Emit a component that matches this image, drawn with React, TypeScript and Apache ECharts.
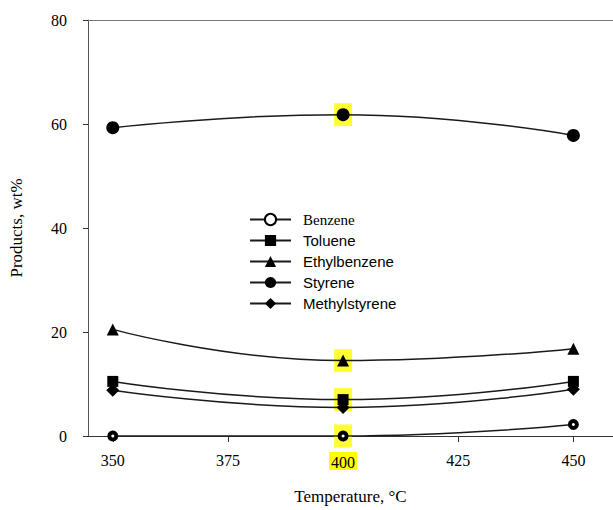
import React, { useEffect, useRef } from "react";
import * as echarts from "echarts";

const temperatures = [350, 400, 450];
const benzene = [0, 0, 2.2];
const toluene = [10.5, 7.0, 10.5];
const ethylbenzene = [20.5, 14.5, 16.8];
const styrene = [59.3, 61.8, 57.8];
const methylstyrene = [8.8, 5.5, 9.0];
const xTicks = [350, 375, 400, 425, 450];
const highlighted = [
  [400, 61.8],
  [400, 14.5],
  [400, 7.0],
  [400, 0],
];

const SERIF = "Liberation Serif";
const SANS = "Liberation Sans";

function pairs(vals: number[]) {
  return temperatures.map((t, i) => [t, vals[i]]);
}

export default function App() {
  const ref = useRef<HTMLDivElement>(null);
  useEffect(() => {
    if (!ref.current) return;
    const chart = echarts.init(ref.current, undefined, { renderer: "svg" });
    const lineStyle = { color: "#1a1a1a", width: 1.5 };
    const mk = (name: string, data: number[], symbol: string, size: number, item: any) => ({
      name,
      type: "line",
      data: pairs(data),
      smooth: true,
      symbol,
      symbolSize: size,
      lineStyle,
      itemStyle: item,
      z: 3,
    });
    chart.setOption({
      animation: false,
      grid: { left: 83, right: 0, top: 20, bottom: 70 },
      legend: {
        orient: "vertical",
        left: 244,
        top: 207,
        itemWidth: 41,
        itemHeight: 14,
        itemGap: 6,
        data: ["Benzene", "Toluene", "Ethylbenzene", "Styrene", "Methylstyrene"],
        formatter: (n: string) => (n === "Benzene" ? `{s|${n}}` : `{a|${n}}`),
        textStyle: {
          color: "#000",
          rich: {
            s: { fontFamily: SERIF, fontSize: 15, color: "#000", padding: [0, 0, 0, 7] },
            a: { fontFamily: SANS, fontSize: 15, color: "#000", padding: [0, 0, 0, 7] },
          },
        },
      },
      xAxis: [
        {
          type: "value",
          min: 344.62,
          max: 458.6,
          name: "Temperature, °C",
          nameLocation: "middle",
          nameGap: 52,
          nameTextStyle: { fontFamily: SERIF, fontSize: 17, color: "#000" },
          axisLine: { lineStyle: { color: "#333", width: 1 } },
          axisTick: { customValues: xTicks, length: 6, lineStyle: { color: "#333" } },
          axisLabel: {
            customValues: xTicks,
            margin: 16,
            fontFamily: SERIF,
            fontSize: 16,
            color: "#000",
            formatter: (v: number) => (v === 400 ? `{hl|${v}}` : `${v}`),
            rich: {
              hl: {
                backgroundColor: "#ffff00",
                fontFamily: SERIF,
                fontSize: 16,
                color: "#000",
                padding: [2, 2, 0, 2],
              },
            },
          },
          splitLine: { show: false },
        },
        {
          type: "value",
          position: "top",
          min: 344.62,
          max: 458.6,
          axisLine: { show: true, lineStyle: { color: "#777", width: 1 } },
          axisTick: { show: false },
          axisLabel: { show: false },
          splitLine: { show: false },
        },
      ],
      yAxis: {
        type: "value",
        min: 0,
        max: 80,
        interval: 20,
        name: "Products, wt%",
        nameLocation: "middle",
        nameGap: 63,
        nameTextStyle: { fontFamily: SERIF, fontSize: 17, color: "#000" },
        axisLine: { show: true, lineStyle: { color: "#555", width: 1 } },
        axisTick: { show: true, length: 5, lineStyle: { color: "#333" } },
        axisLabel: { margin: 21, fontFamily: SERIF, fontSize: 16, color: "#000" },
        splitLine: { show: false },
      },
      series: [
        {
          name: "highlight",
          type: "scatter",
          data: highlighted,
          symbol: "rect",
          symbolSize: [18, 23],
          itemStyle: { color: "#ffff00" },
          silent: true,
          z: 1,
        },
        mk("Benzene", benzene, "circle", 7, { color: "#fff", borderColor: "#000", borderWidth: 4 }),
        mk("Toluene", toluene, "rect", 11, { color: "#000" }),
        mk("Ethylbenzene", ethylbenzene, "triangle", 12, { color: "#000" }),
        mk("Styrene", styrene, "circle", 13, { color: "#000" }),
        mk("Methylstyrene", methylstyrene, "diamond", 13, { color: "#000" }),
      ],
    });
    return () => chart.dispose();
  }, []);
  return (
    <div
      ref={ref}
      style={{ position: "absolute", left: 0, top: 0, width: 613, height: 510 }}
    />
  );
}
